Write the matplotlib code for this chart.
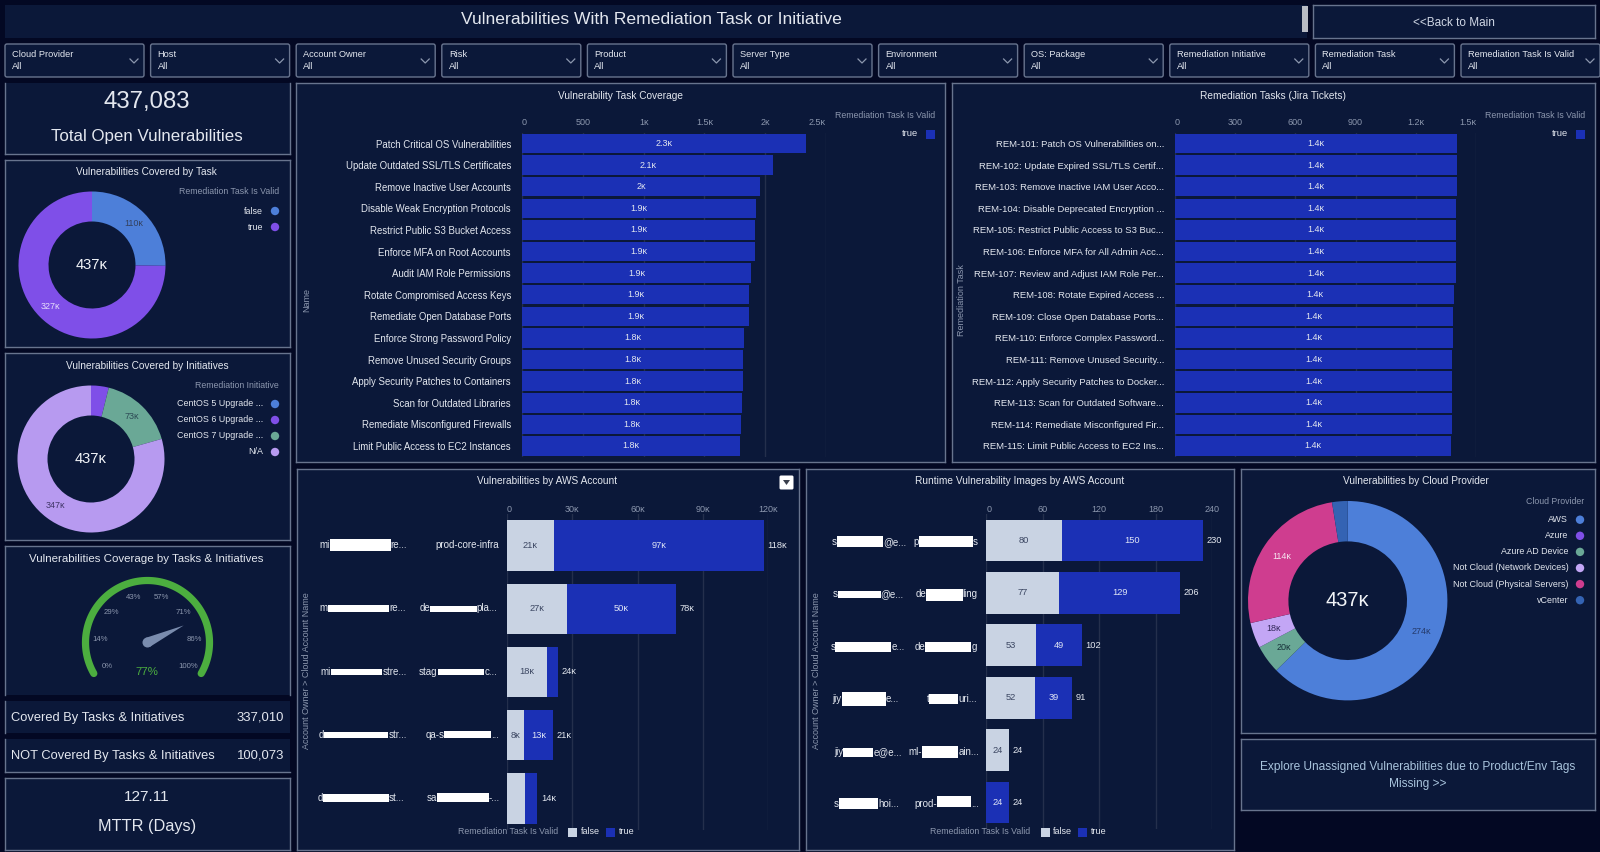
import numpy as np
import matplotlib
matplotlib.use('Agg')
import matplotlib.pyplot as plt
from matplotlib.patches import Rectangle, FancyBboxPatch, Circle, Polygon

W, H = 1600, 852

# colours
PAGE = '#030823'
PANEL = '#0b1839'
BORDER = '#68748e'
TEXT = '#e3e7ef'
MUTED = '#8c97ae'
GRID = '#242f4c'
BLUE_BAR = '#1b30b5'
GREY_BAR = '#c9d3e3'

filter_names = ['Cloud Provider', 'Host', 'Account Owner', 'Risk', 'Product', 'Server Type',
                'Environment', 'OS: Package', 'Remediation Initiative', 'Remediation Task',
                'Remediation Task Is Valid']

task_names = ['Patch Critical OS Vulnerabilities', 'Update Outdated SSL/TLS Certificates',
              'Remove Inactive User Accounts', 'Disable Weak Encryption Protocols',
              'Restrict Public S3 Bucket Access', 'Enforce MFA on Root Accounts',
              'Audit IAM Role Permissions', 'Rotate Compromised Access Keys',
              'Remediate Open Database Ports', 'Enforce Strong Password Policy',
              'Remove Unused Security Groups', 'Apply Security Patches to Containers',
              'Scan for Outdated Libraries', 'Remediate Misconfigured Firewalls',
              'Limit Public Access to EC2 Instances']
task_values = [2336, 2068, 1955, 1925, 1917, 1917, 1884, 1867, 1867, 1825, 1816, 1816, 1808, 1800, 1791]
task_ticks = [0, 500, 1000, 1500, 2000, 2500]
task_ticklabels = ['0', '500', '1κ', '1.5κ', '2κ', '2.5κ']

rem_names = ['REM-101: Patch OS Vulnerabilities on...', 'REM-102: Update Expired SSL/TLS Certif...',
             'REM-103: Remove Inactive IAM User Acco...', 'REM-104: Disable Deprecated Encryption ...',
             'REM-105: Restrict Public Access to S3 Buc...', 'REM-106: Enforce MFA for All Admin Acc...',
             'REM-107: Review and Adjust IAM Role Per...', 'REM-108: Rotate Expired Access ...',
             'REM-109: Close Open Database Ports...', 'REM-110: Enforce Complex Password...',
             'REM-111: Remove Unused Security...', 'REM-112: Apply Security Patches to Docker...',
             'REM-113: Scan for Outdated Software...', 'REM-114: Remediate Misconfigured Fir...',
             'REM-115: Limit Public Access to EC2 Ins...']
rem_values = [1405, 1405, 1405, 1400, 1400, 1400, 1400, 1390, 1385, 1385, 1380, 1380, 1380, 1380, 1375]
rem_ticks = [0, 300, 600, 900, 1200, 1500]
rem_ticklabels = ['0', '300', '600', '900', '1.2κ', '1.5κ']

# redacted names are kept as the visible pieces either side of the white box
aws_owner_parts = [('mi', 're...'), ('m', 're...'), ('mi', 'stre...'), ('d', 'str...'), ('d', 'st...')]
aws_account_parts = [('prod-core-infra', ''), ('de', 'pla...'), ('stag', 'c...'), ('qa-s', '...'), ('sa', '-...')]
aws_false = [21.4, 27.4, 18.4, 8.0, 8.3]
aws_true = [96.6, 50.1, 5.2, 13.0, 5.7]
aws_false_labels = ['21κ', '27κ', '18κ', '8κ', '']
aws_true_labels = ['97κ', '50κ', '', '13κ', '']
aws_total_labels = ['118κ', '78κ', '24κ', '21κ', '14κ']
aws_ticks = [0, 30, 60, 90, 120]
aws_ticklabels = ['0', '30κ', '60κ', '90κ', '120κ']

run_owner_parts = [('s', '@e...'), ('s', '@e...'), ('s', 'e...'), ('jiy', 'e...'), ('jiy', 'e@e...'), ('s', 'hoi...')]
run_account_parts = [('p', 's'), ('de', 'ling'), ('de', 'g'), ('t', 'uri...'), ('ml-', 'ain...'), ('prod-', '...')]
run_false = [80, 77, 53, 52, 24, 0]
run_true = [150, 129, 49, 39, 0, 24]
run_ticks = [0, 60, 120, 180, 240]

covered_names = ['false', 'true']
covered_values = [110, 327]
initiative_names = ['CentOS 5 Upgrade ...', 'CentOS 6 Upgrade ...', 'CentOS 7 Upgrade ...', 'N/A']
initiative_values = [0, 17, 73, 347]
cloud_names = ['AWS', 'Azure', 'Azure AD Device', 'Not Cloud (Network Devices)',
               'Not Cloud (Physical Servers)', 'vCenter']
cloud_values = [274, 0, 20, 18, 114, 11]

gauge_ticks = [0, 14, 29, 43, 57, 71, 86, 100]
gauge_value = 77

plt.rcParams['font.family'] = ['Liberation Sans', 'DejaVu Sans']


def fs(px):
    return px * 72 / 100


def px_axes(x0, y0, x1, y1, zorder=2):
    a = fig.add_axes([x0 / W, 1 - y1 / H, (x1 - x0) / W, (y1 - y0) / H], zorder=zorder)
    a.patch.set_alpha(0)
    return a


def panel(x0, y0, x1, y1, sides='lrtb'):
    bg.add_patch(Rectangle((x0, y0), x1 - x0, y1 - y0, fc=PANEL, ec='none'))
    if 'l' in sides:
        bg.plot([x0, x0], [y0, y1], color=BORDER, lw=1)
    if 'r' in sides:
        bg.plot([x1, x1], [y0, y1], color=BORDER, lw=1)
    if 't' in sides:
        bg.plot([x0, x1], [y0, y0], color=BORDER, lw=1)
    if 'b' in sides:
        bg.plot([x0, x1], [y1, y1], color=BORDER, lw=1)


def label(x, y, s, px=10, color=TEXT, ha='center', **kw):
    return fg.text(x, y, s, fontsize=fs(px), color=color, ha=ha, va='center', **kw)


def fmt_k(v):
    s = f'{v / 1000:.1f}'
    return s[:-2] + 'κ' if s.endswith('.0') else s + 'κ'


def task_chart(box, names, values, ticks, ticklabels, name_px, title, title_x, ylabel, ylabel_x, legend_right):
    ax = px_axes(*box)
    y = np.arange(len(names))
    ax.barh(y, values, height=0.9, color=BLUE_BAR, zorder=3)
    ax.set_ylim(len(names) - 0.5, -0.5)
    ax.set_xlim(ticks[0], ticks[-1])
    ax.set_yticks(y, names, fontsize=fs(name_px), color=TEXT)
    ax.set_xticks(ticks, ticklabels, fontsize=fs(9), color=MUTED)
    ax.xaxis.tick_top()
    ax.tick_params(length=0, pad=4)
    ax.tick_params(axis='y', pad=8)
    ax.get_xticklabels()[0].set_ha('left')
    ax.get_xticklabels()[-1].set_ha('right')
    ax.grid(axis='x', color=GRID, lw=1, zorder=0)
    for s in ax.spines.values():
        s.set_visible(False)
    for i, v in enumerate(values):
        ax.text(v / 2, i, fmt_k(v), color=TEXT, fontsize=fs(9), ha='center', va='center', zorder=4)
    label(title_x, 96, title, 10.1)
    label(ylabel_x, 300, ylabel, 9, MUTED, rotation=90)
    label(legend_right, 115, 'Remediation Task Is Valid', 8.8, MUTED, ha='right')
    label(legend_right - 17, 134, 'true', 9.4, TEXT, ha='right')
    fg.add_patch(Rectangle((legend_right - 9, 129.5), 9, 9, fc=BLUE_BAR, ec='none'))


def stacked_chart(box, n, false_vals, true_vals, xmax, ticks, ticklabels, false_labels, true_labels, total_labels):
    ax = px_axes(*box)
    y = np.arange(n)
    h = 0.8
    ax.barh(y, false_vals, height=h, color=GREY_BAR, zorder=3)
    ax.barh(y, true_vals, left=false_vals, height=h, color=BLUE_BAR, zorder=3)
    ax.set_ylim(n - 0.5, -0.5)
    ax.set_xlim(0, xmax)
    ax.set_yticks([])
    ax.set_xticks(ticks, ticklabels, fontsize=fs(9), color=MUTED)
    ax.xaxis.tick_top()
    ax.tick_params(length=0, pad=0)
    ax.get_xticklabels()[0].set_ha('left')
    ax.grid(axis='x', color=GRID, lw=1, zorder=0)
    for s in ax.spines.values():
        s.set_visible(False)
    gap = xmax * 0.014
    for i in range(n):
        f, t = false_vals[i], true_vals[i]
        if false_labels[i]:
            ax.text(f / 2, i, false_labels[i], color='#3c4763', fontsize=fs(9.3), ha='center', va='center', zorder=4)
        if true_labels[i]:
            ax.text(f + t / 2, i, true_labels[i], color='#dfe5f5', fontsize=fs(9.3), ha='center', va='center', zorder=4)
        ax.text(f + t + gap, i, total_labels[i], color=TEXT, fontsize=fs(9.3), ha='left', va='center', zorder=4)
    return ax


def redacted_names(parts, right, boxes, rows):
    # parts and boxes line up row by row, the box hides the middle of the name
    for (left_part, right_part), box, yc in zip(parts, boxes, rows):
        if box is None:
            label(right, yc, left_part, 9.8, TEXT, ha='right')
            continue
        x0, y0, x1, y1 = box
        fg.add_patch(Rectangle((x0, y0), x1 - x0, y1 - y0, fc='white', ec='none', zorder=6))
        label(x0, yc, left_part, 9.8, TEXT, ha='right')
        label(x1, yc, right_part, 9.8, TEXT, ha='left')


def donut(cx, cy, r_out, r_in, values, colors, center_px, texts):
    ax = px_axes(cx - r_out, cy - r_out, cx + r_out, cy + r_out)
    ax.pie(values, colors=colors, startangle=90, counterclock=False, radius=1,
           wedgeprops=dict(width=1 - r_in / r_out, linewidth=0))
    ax.set_xlim(-1, 1)
    ax.set_ylim(-1, 1)
    label(cx, cy, '437κ', center_px, '#f2f4f8')
    total = sum(values)
    mid_r = (r_out + r_in) / 2
    acc = 0
    for v, t in zip(values, texts):
        if t:
            frac = (acc + v / 2) / total * 2 * np.pi
            label(cx + mid_r * np.sin(frac), cy - mid_r * np.cos(frac), t[0], 9, t[1])
        acc += v


def dot_legend(title, names, colors, title_y, first_y, step, title_right, text_right, dot_x):
    label(title_right, title_y, title, 8.8, MUTED, ha='right')
    for i, (n, c) in enumerate(zip(names, colors)):
        yy = first_y + i * step
        label(text_right, yy, n, 8.9, TEXT, ha='right')
        fg.add_patch(Circle((dot_x, yy), 4.2, fc=c, ec='none'))


def bottom_legend(title_x, false_x, true_x, y=832):
    label(title_x, y, 'Remediation Task Is Valid', 8.8, MUTED, ha='left')
    fg.add_patch(Rectangle((false_x, y - 4.5), 9, 9, fc=GREY_BAR, ec='none'))
    label(false_x + 12.5, y, 'false', 9, TEXT, ha='left')
    fg.add_patch(Rectangle((true_x, y - 4.5), 9, 9, fc=BLUE_BAR, ec='none'))
    label(true_x + 12.5, y, 'true', 9, TEXT, ha='left')


fig = plt.figure(figsize=(W / 100, H / 100), dpi=100, facecolor=PAGE)
bg = fig.add_axes([0, 0, 1, 1], zorder=0)
bg.set_xlim(0, W)
bg.set_ylim(H, 0)
bg.axis('off')
fg = fig.add_axes([0, 0, 1, 1], zorder=5)
fg.set_xlim(0, W)
fg.set_ylim(H, 0)
fg.axis('off')
fg.patch.set_alpha(0)

# header
bg.add_patch(Rectangle((5, 5), 1302, 33, fc=PANEL, ec='none'))
label(651, 19, 'Vulnerabilities With Remediation Task or Initiative', 17.5)
bg.add_patch(Rectangle((1302, 6), 6, 26, fc='#b9bcc4', ec='none'))
panel(1313, 5, 1595, 38)
label(1454, 22.5, '<<Back to Main', 11.8, '#cfd6e4')

# filter row
for i, name in enumerate(filter_names):
    x0 = 5 + i * 145.6
    x1 = x0 + 139
    bg.add_patch(FancyBboxPatch((x0 + 2, 46), 135, 29, boxstyle='round,pad=2', fc=PANEL, ec=BORDER, lw=1))
    label(x0 + 7, 54.7, name, 9.3, TEXT, ha='left')
    label(x0 + 7, 66.7, 'All', 9.3, TEXT, ha='left')
    fg.plot([x1 - 14, x1 - 10, x1 - 6], [59, 63, 59], color=MUTED, lw=0.9)

# left column
panel(5, 83, 290, 154, 'lrb')
label(147, 102, '437,083', 24)
label(147, 136, 'Total Open Vulnerabilities', 16.9)

panel(5, 160, 290, 347)
label(146, 172, 'Vulnerabilities Covered by Task', 10.1)
cov_colors = ['#4d7fd9', '#7f4fe8']
donut(92, 265, 73.5, 43.5, covered_values, cov_colors, 14.8, [('110κ', '#33415f'), ('327κ', '#e6ddfb')])
dot_legend('Remediation Task Is Valid', covered_names, cov_colors, 192, 211, 16, 279, 263, 275)

panel(5, 353, 290, 540)
label(147, 366, 'Vulnerabilities Covered by Initiatives', 10.1)
ini_colors = ['#4d7fd9', '#7f4fe8', '#6aa896', '#b79af0']
donut(91, 459, 73.5, 43.5, initiative_values, ini_colors, 14.8, ['', '', ('73κ', '#2d4a55'), ('347κ', '#3f3566')])
dot_legend('Remediation Initiative', initiative_names, ini_colors, 385, 404, 16, 279, 263, 275)

panel(5, 546, 290, 695, 'lrt')
label(146, 559, 'Vulnerabilities Coverage by Tasks & Initiatives', 11.5)
gx, gy = 147.5, 642.5
theta = np.radians(np.linspace(210, -30, 120))
fg.plot(gx + 62 * np.cos(theta), gy - 62 * np.sin(theta), color='#4cae3f', lw=5.2, solid_capstyle='round')
for t in gauge_ticks:
    a = np.radians(210 - t / 100 * 240)
    label(gx + 47 * np.cos(a), gy - 47 * np.sin(a), f'{t}%', 7.8, MUTED)
a = np.radians(210 - gauge_value / 100 * 240)
tip = (gx + 40 * np.cos(a), gy - 40 * np.sin(a))
side = (5 * np.sin(a), 5 * np.cos(a))
fg.add_patch(Polygon([(gx - side[0], gy - side[1]), tip, (gx + side[0], gy + side[1])], fc='#7a8cae', ec='none'))
fg.add_patch(Circle((gx, gy), 5, fc='#7a8cae', ec='none'))
label(147, 672, f'{gauge_value}%', 11.5, '#4cae3f')

panel(5, 701, 290, 733, 'l')
label(11, 718, 'Covered By Tasks & Initiatives', 12.9, ha='left')
label(284, 718, '337,010', 13.1, ha='right')
panel(5, 739, 290, 772, 'lb')
label(11, 756, 'NOT Covered By Tasks & Initiatives', 12.9, ha='left')
label(284, 756, '100,073', 13.1, ha='right')
panel(5, 778, 290, 850)
label(147, 797, '127.11', 15.4)
label(147, 827, 'MTTR (Days)', 16.3)

# top charts
panel(296, 83, 945, 462)
task_chart((522, 132.7, 826, 456.8), task_names, task_values, task_ticks, task_ticklabels, 9.7,
           'Vulnerability Task Coverage', 620, 'Name', 307, 935)
panel(951.5, 83, 1595, 462)
task_chart((1175, 132.7, 1476, 456.8), rem_names, rem_values, rem_ticks, rem_ticklabels, 9.5,
           'Remediation Tasks (Jira Tickets)', 1273, 'Remediation Task', 961, 1585)

# AWS account chart
panel(297, 469, 799, 850)
label(547, 481.5, 'Vulnerabilities by AWS Account', 10.1)
stacked_chart((507, 514, 768, 830), 5, aws_false, aws_true, 120, aws_ticks, aws_ticklabels,
              aws_false_labels, aws_true_labels, aws_total_labels)
label(306.7, 671, 'Account Owner > Cloud Account Name', 9, MUTED, rotation=90)
aws_rows = [545, 608, 672, 735, 798]
redacted_names(aws_owner_parts, 406,
               [(330, 539, 390.7, 551), (327.7, 605, 389, 611.7), (330.7, 669, 382.3, 675),
                (324.3, 731.7, 388.3, 738.3), (322.7, 794, 389, 801.7)], aws_rows)
redacted_names(aws_account_parts, 498.7,
               [None, (430, 606, 476.7, 611.7), (437.7, 669, 484.3, 675),
                (444.3, 731, 491, 738.3), (437.3, 793.3, 488.7, 801.7)], aws_rows)
bottom_legend(458, 568, 606)
fg.add_patch(FancyBboxPatch((781, 477), 11, 11, boxstyle='round,pad=1.5', fc='white', ec='none'))
fg.add_patch(Polygon([(783, 480), (790, 480), (786.5, 485)], fc='#3a3f4c', ec='none'))

# runtime images chart
panel(806, 469, 1234, 850)
label(1020, 481.5, 'Runtime Vulnerability Images by AWS Account', 10.1)
run_totals = [f + t for f, t in zip(run_false, run_true)]
stacked_chart((986.3, 514.3, 1212.3, 828.7), 6, run_false, run_true, 240, run_ticks, [str(t) for t in run_ticks],
              [str(v) if v else '' for v in run_false], [str(v) if v else '' for v in run_true],
              [str(v) for v in run_totals])
label(816.7, 671, 'Account Owner > Cloud Account Name', 9, MUTED, rotation=90)
run_rows = [541.7, 594, 647, 699, 751.7, 804]
redacted_names(run_owner_parts, 902,
               [(836.7, 536, 883.3, 547.3), (837.7, 590.7, 880.7, 598.3), (835.3, 642.3, 891.3, 651.7),
                (841.7, 692.3, 886, 705.7), (843.3, 748.3, 873.3, 756.7), (839, 798.3, 878.3, 809)], run_rows)
redacted_names(run_account_parts, 978,
               [(919, 536, 972.7, 547.3), (926.3, 589.3, 962.7, 600.7), (925, 642.3, 971.3, 652),
                (929.3, 694, 958, 704), (922, 745.7, 958.3, 757.7), (936.7, 796, 970.7, 806.7)], run_rows)
bottom_legend(930, 1040.7, 1078)

# cloud provider donut
panel(1241, 469, 1595, 733)
label(1416, 481.5, 'Vulnerabilities by Cloud Provider', 10.1)
cloud_colors = ['#4d7fd9', '#7f4fe8', '#6aa896', '#c3a6f5', '#cf3d8f', '#3463b3']
donut(1347.7, 600.7, 99.7, 59.3, cloud_values, cloud_colors, 20,
      [('274κ', '#253a6b'), '', ('20κ', '#17323a'), ('18κ', '#33285a'), ('114κ', '#f5e4ef'), ''])
dot_legend('Cloud Provider', cloud_names, cloud_colors, 501, 519.7, 16.1, 1584, 1568.3, 1580)

panel(1241, 739, 1595, 810)
label(1417.7, 766.7, 'Explore Unassigned Vulnerabilities due to Product/Env Tags', 11.9, '#a9c4dd')
label(1417.7, 784.5, 'Missing >>', 11.9, '#a9c4dd')

fig.savefig('out.png', dpi=100, facecolor=PAGE)
